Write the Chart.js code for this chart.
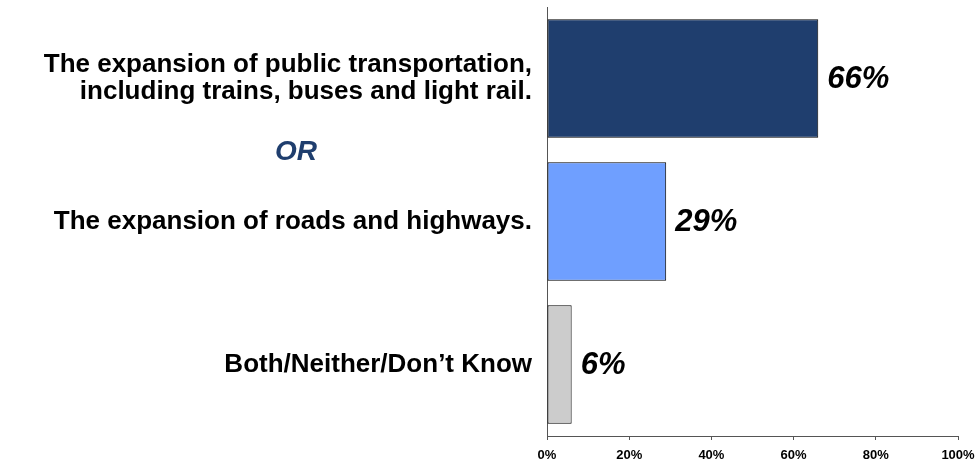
<!DOCTYPE html>
<html>
<head>
<meta charset="utf-8">
<script src="https://cdn.jsdelivr.net/npm/chart.js@4"></script>
<style>
  html, body { margin: 0; padding: 0; background: #fff; }
  #wrap { width: 977px; height: 461px; }
</style>
</head>
<body>
<div id="wrap"><canvas id="barChart"></canvas></div>
<script>
// categories (multi-line where the picture wraps)
const categories = [
  ['The expansion of public transportation,', 'including trains, buses and light rail.'],
  'The expansion of roads and highways.',
  'Both/Neither/Don\u2019t Know'
]
const values = [66, 29, 6]
const barColors = ['#1F3E6E', '#6F9FFF', '#CCCCCC']
const tickValues = [0, 20, 40, 60, 80, 100]
const separatorText = 'OR'

const FONT = '"Liberation Sans", Arial, Helvetica, sans-serif'

// percent labels at the end of each bar
const valueLabels = {
  id: 'valueLabels',
  afterDatasetsDraw(chart) {
    const ctx = chart.ctx
    const meta = chart.getDatasetMeta(0)
    ctx.save()
    ctx.font = 'italic bold 31px ' + FONT
    ctx.fillStyle = '#000'
    ctx.textAlign = 'left'
    ctx.textBaseline = 'middle'
    meta.data.forEach((bar, i) => {
      ctx.fillText(values[i] + '%', bar.x + 9, bar.y + 1)
    })
    ctx.restore()
  }
}

// the "OR" between the first two choices
const orLabel = {
  id: 'orLabel',
  afterDraw(chart) {
    const y0 = chart.scales.y.getPixelForValue(0)
    const y1 = chart.scales.y.getPixelForValue(1)
    const ctx = chart.ctx
    ctx.save()
    ctx.font = 'italic bold 28px ' + FONT
    ctx.fillStyle = '#1F3E6E'
    ctx.textAlign = 'center'
    ctx.textBaseline = 'middle'
    ctx.fillText(separatorText, 296, (y0 + y1) / 2 + 2)
    ctx.restore()
  }
}

var ctx = document.getElementById('barChart').getContext('2d');
var myChart = new Chart(ctx, {
  type: 'bar',
  data: {
    labels: categories,
    datasets: [{
      data: values,
      backgroundColor: barColors,
      borderColor: '#000',
      borderWidth: 1,
      borderSkipped: false,
      categoryPercentage: 1,
      barPercentage: 0.83
    }]
  },
  options: {
    indexAxis: 'y',
    responsive: true,
    maintainAspectRatio: false,
    animation: false,
    layout: { padding: { top: 7, left: 0, right: 0, bottom: 0 } },
    plugins: {
      legend: { display: false },
      tooltip: { enabled: false }
    },
    scales: {
      x: {
        min: 0,
        max: 100,
        afterBuildTicks: (scale) => { scale.ticks = tickValues.map(v => ({ value: v })) },
        afterFit: (scale) => {
          scale.height = 25
          scale.paddingRight = 19
        },
        ticks: {
          callback: (v) => v + '%',
          color: '#000',
          font: { family: FONT, size: 13, weight: 'bold' },
          maxRotation: 0,
          padding: 8
        },
        grid: { drawOnChartArea: false, drawTicks: true, tickLength: 4, color: '#555' },
        border: { color: '#555', width: 1 }
      },
      y: {
        afterFit: (scale) => {
          scale.width = 547
          scale.paddingTop = 0
          scale.paddingBottom = 0
        },
        ticks: {
          color: '#000',
          font: { family: FONT, size: 26, weight: 'bold', lineHeight: 1.05 },
          padding: 15
        },
        grid: { display: false, drawTicks: false },
        border: { color: '#555', width: 1 }
      }
    }
  },
  plugins: [valueLabels, orLabel]
});
</script>
</body>
</html>
